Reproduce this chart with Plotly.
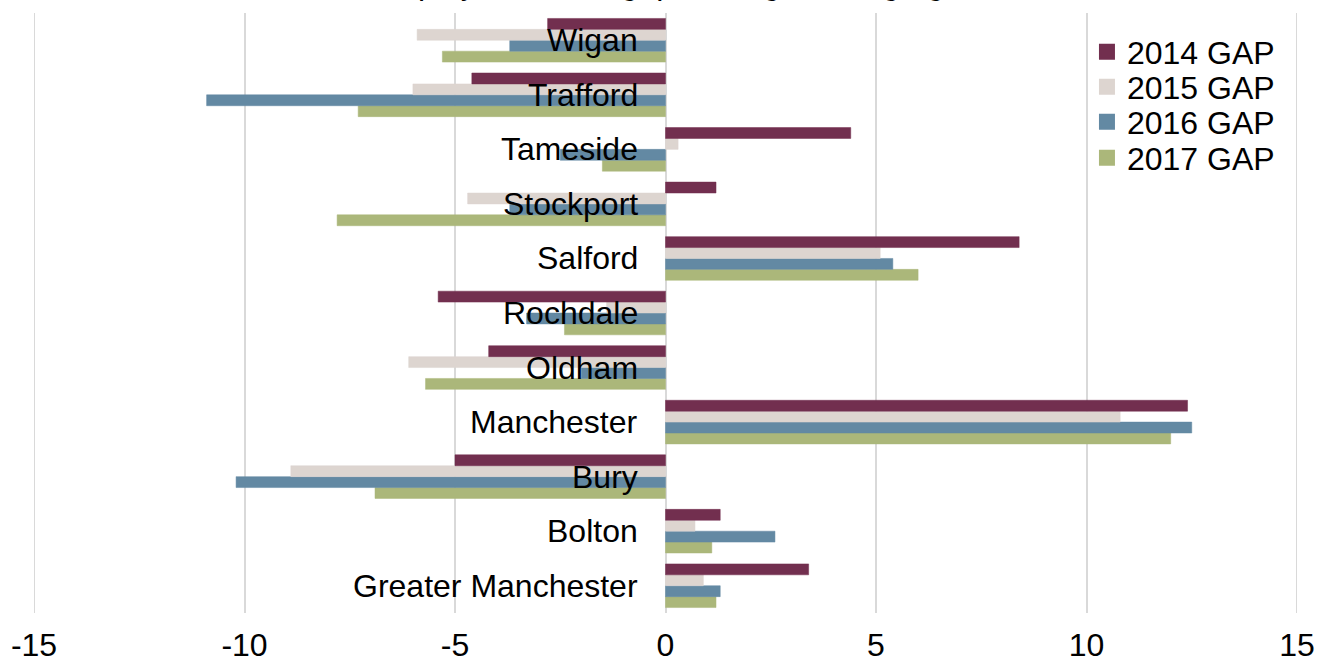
import plotly.graph_objects as go

# Districts, listed bottom to top
districts = [
    "Greater Manchester", "Bolton", "Bury", "Manchester", "Oldham",
    "Rochdale", "Salford", "Stockport", "Tameside", "Trafford", "Wigan",
]

# Employment rate gap (percentage points) per year
gap_2014 = [3.4, 1.3, -5.0, 12.4, -4.2, -5.4, 8.4, 1.2, 4.4, -4.6, -2.8]
gap_2015 = [0.9, 0.7, -8.9, 10.8, -6.1, -1.4, 5.1, -4.7, 0.3, -6.0, -5.9]
gap_2016 = [1.3, 2.6, -10.2, 12.5, -2.0, -3.3, 5.4, -3.7, -2.5, -10.9, -3.7]
gap_2017 = [1.2, 1.1, -6.9, 12.0, -5.7, -2.4, 6.0, -7.8, -1.5, -7.3, -5.3]

series = [
    ("2014 GAP", gap_2014, "#722F4F"),
    ("2015 GAP", gap_2015, "#DDD5D0"),
    ("2016 GAP", gap_2016, "#6389A3"),
    ("2017 GAP", gap_2017, "#ABB77A"),
]

x_ticks = [-15, -10, -5, 0, 5, 10, 15]

FONT = "Liberation Sans, Arial, sans-serif"
FS = 32
GRID = "#D9D9D9"

fig = go.Figure()

# Horizontal grouped bars stack upward, so add the latest year first
for name, values, color in reversed(series):
    fig.add_trace(go.Bar(
        y=districts,
        x=values,
        name=name,
        orientation="h",
        showlegend=False,
        marker=dict(color=color, line=dict(color=color, width=0.5)),
    ))

# One legend box per year so the rows can be spaced tightly
legend_ids = ["legend", "legend2", "legend3", "legend4"]
legend_rows = [0.935, 0.8767, 0.8183, 0.7583]
for (name, values, color), lid in zip(series, legend_ids):
    fig.add_trace(go.Scatter(
        x=[None], y=[None],
        mode="markers",
        name=name,
        legend=lid,
        marker=dict(symbol="square", size=16, color=color),
        hoverinfo="skip",
    ))

# Grid lines on the outer ticks, which the axis leaves off at the edges
for edge in (x_ticks[0], x_ticks[-1]):
    fig.add_vline(x=edge, line=dict(color=GRID, width=2), layer="below")

# District names sit just left of the zero line, over the bars
for d in districts:
    fig.add_annotation(
        x=0, y=d, xref="x", yref="y",
        text=d, showarrow=False,
        xanchor="right", yanchor="middle", xshift=-26,
        font=dict(family=FONT, size=FS, color="black"),
    )

# Chart title, running off the top edge
fig.add_annotation(
    x=0.5, y=1, xref="paper", yref="paper",
    text="Employment rate gap among working age",
    showarrow=False, xanchor="center", yanchor="bottom", yshift=10,
    font=dict(family=FONT, size=FS, color="black"),
)

legend_common = dict(
    x=0.8337, xanchor="left", yanchor="middle",
    bgcolor="rgba(0,0,0,0)",
    font=dict(family=FONT, size=FS, color="black"),
    itemwidth=30,
)

fig.update_layout(
    width=1325,
    height=664,
    margin=dict(l=34, r=28, t=13, b=51),
    paper_bgcolor="white",
    plot_bgcolor="white",
    barmode="group",
    bargap=0.2,
    bargroupgap=0,
    font=dict(family=FONT, size=FS, color="black"),
    legend=dict(y=legend_rows[0], **legend_common),
    legend2=dict(y=legend_rows[1], **legend_common),
    legend3=dict(y=legend_rows[2], **legend_common),
    legend4=dict(y=legend_rows[3], **legend_common),
    xaxis=dict(
        range=[-15, 15],
        tickvals=x_ticks,
        ticktext=[str(v) for v in x_ticks],
        showgrid=True,
        gridcolor=GRID,
        gridwidth=2,
        zeroline=True,
        zerolinecolor=GRID,
        zerolinewidth=2,
        showline=False,
        ticks="",
        ticklabelstandoff=10,
        automargin=False,
        tickfont=dict(family=FONT, size=FS, color="black"),
    ),
    yaxis=dict(
        showticklabels=False,
        showgrid=False,
        zeroline=False,
        showline=False,
        ticks="",
        automargin=False,
        range=[-0.5, 10.5],
    ),
)

fig.write_html("out.html")
